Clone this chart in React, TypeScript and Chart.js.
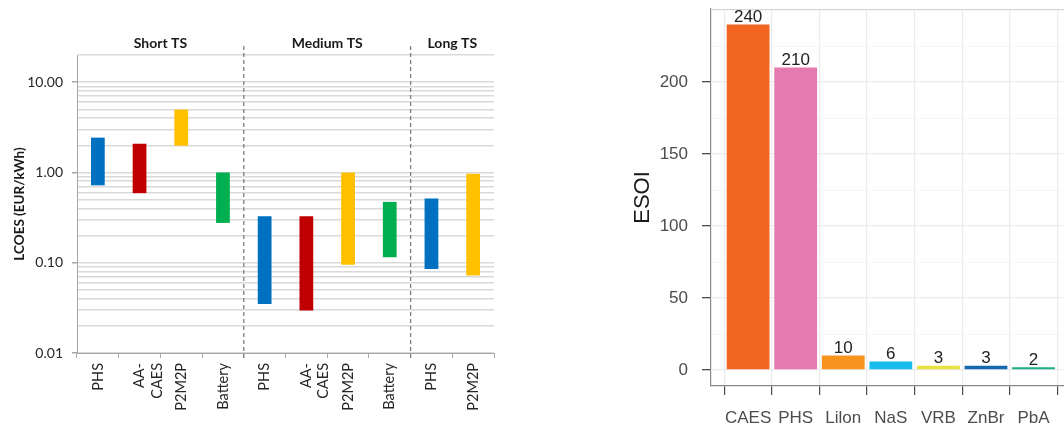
import React, { useEffect, useRef } from 'react';
import { Chart, registerables } from 'chart.js';
Chart.register(...registerables);

// ---------- Left chart data (LCOES, log scale) ----------
const lcoesCategories: string[][] = [
  ['PHS'], ['AA-', 'CAES'], ['P2M2P'], ['Battery'],
  ['PHS'], ['AA-', 'CAES'], ['P2M2P'], ['Battery'],
  ['PHS'], ['P2M2P'],
];
const lcoesLow = [0.72, 0.59, 1.98, 0.276, 0.035, 0.0295, 0.095, 0.115, 0.085, 0.072];
const lcoesHigh = [2.43, 2.08, 4.97, 1.0, 0.327, 0.327, 1.0, 0.472, 0.514, 0.967];
const lcoesColors = [
  '#0070C0', '#C00000', '#FFC000', '#00B050',
  '#0070C0', '#C00000', '#FFC000', '#00B050',
  '#0070C0', '#FFC000',
];
const groupNames = ['Short TS', 'Medium TS', 'Long TS'];
const groupSizes = [4, 4, 2];
const lcoesDecades = [0.01, 0.1, 1, 10];
const lcoesMin = 0.01;
const lcoesMax = 20;
const lcoesTitle = 'LCOES (EUR/kWh)';

// ---------- Right chart data (ESOI) ----------
const esoiCategories = ['CAES', 'PHS', 'Lilon', 'NaS', 'VRB', 'ZnBr', 'PbA'];
const esoiValues = [240, 210, 10, 6, 3, 3, 2];
const esoiColors = ['#F26522', '#E57AB0', '#F7941D', '#19BBEA', '#E9E23C', '#1468B0', '#1DAA86'];
const esoiMajorTicks = [0, 50, 100, 150, 200];
const esoiMinorTicks = [25, 75, 125, 175, 225, 250];
const esoiTitle = 'ESOI';

const FONT_L = 'Lato, "Open Sans", sans-serif';
const FONT_R = '"Liberation Sans", Arial, sans-serif';

function isDecade(v: number) {
  return lcoesDecades.some((d) => Math.abs(d - v) / d < 1e-6);
}

function LeftChart() {
  const ref = useRef<HTMLCanvasElement | null>(null);
  useEffect(() => {
    if (!ref.current) return;
    const gridValues: number[] = [];
    lcoesDecades.forEach((d) => {
      for (let k = 1; k <= 9; k++) {
        const v = d * k;
        if (v >= lcoesMin - 1e-9 && v <= lcoesMax + 1e-9) gridValues.push(Number(v.toPrecision(6)));
      }
    });
    if (!gridValues.some((v) => Math.abs(v - lcoesMax) < 1e-9)) gridValues.push(lcoesMax);

    const groupPlugin = {
      id: 'groups',
      afterDraw(chart: any) {
        const x = chart.scales.x;
        const ctx = chart.ctx;
        ctx.save();
        let start = 0;
        groupSizes.forEach((size, gi) => {
          const end = start + size - 1;
          const cx = (x.getPixelForValue(start) + x.getPixelForValue(end)) / 2;
          ctx.fillStyle = '#1a1a1a';
          ctx.font = 'bold 14px ' + FONT_L;
          ctx.textAlign = 'center';
          ctx.textBaseline = 'middle';
          ctx.fillText(groupNames[gi], cx, 43);
          if (gi < groupSizes.length - 1) {
            const bx = (x.getPixelForValue(end) + x.getPixelForValue(end + 1)) / 2;
            ctx.strokeStyle = '#7F7F7F';
            ctx.lineWidth = 1.3;
            ctx.setLineDash([4, 3]);
            ctx.beginPath();
            ctx.moveTo(bx, 46);
            ctx.lineTo(bx, 358);
            ctx.stroke();
            ctx.setLineDash([]);
          }
          start += size;
        });
        ctx.restore();
      },
    };

    const chart = new Chart(ref.current, {
      type: 'bar',
      data: {
        labels: lcoesCategories as any,
        datasets: [
          {
            data: lcoesLow.map((lo, i) => [lo, lcoesHigh[i]]) as any,
            backgroundColor: lcoesColors,
            borderWidth: 0,
            barPercentage: 0.33,
            categoryPercentage: 1,
          },
        ],
      },
      options: {
        animation: false,
        responsive: true,
        maintainAspectRatio: false,
        layout: { padding: { top: 55, right: 26, left: 0, bottom: 0 } },
        plugins: { legend: { display: false }, tooltip: { enabled: false } },
        scales: {
          x: {
            type: 'category',
            afterFit(scale: any) {
              scale.height = 75;
              scale.paddingLeft = 0;
              scale.paddingRight = 0;
            },
            grid: {
              display: true,
              drawOnChartArea: false,
              drawTicks: true,
              tickLength: 5,
              color: '#A6A6A6',
              offset: true,
            },
            border: { display: true, color: '#A6A6A6', width: 1 },
            ticks: {
              maxRotation: 90,
              minRotation: 90,
              autoSkip: false,
              padding: 5,
              color: '#262626',
              font: { family: FONT_L, size: 14.5 },
            },
          },
          y: {
            type: 'logarithmic',
            min: lcoesMin,
            max: lcoesMax,
            afterFit(scale: any) {
              scale.width = 77;
              scale.paddingTop = 0;
              scale.paddingBottom = 0;
            },
            afterBuildTicks(scale: any) {
              scale.ticks = gridValues.map((v) => ({ value: v, major: isDecade(v) }));
            },
            grid: {
              color: '#D9D9D9',
              lineWidth: 1.5,
              drawTicks: true,
              tickLength: 5,
              tickColor: (ctx: any) => (ctx.tick && isDecade(ctx.tick.value) ? '#A6A6A6' : 'rgba(0,0,0,0)'),
            },
            border: { display: true, color: '#A6A6A6', width: 1 },
            ticks: {
              autoSkip: false,
              padding: 9,
              color: '#262626',
              font: { family: FONT_L, size: 14 },
              callback: (value: any) => (isDecade(Number(value)) ? Number(value).toFixed(2) : ''),
            },
            title: {
              display: true,
              text: lcoesTitle,
              color: '#1a1a1a',
              font: { family: FONT_L, size: 13.5, weight: 'bold' },
              padding: { top: 12, bottom: 0 },
            },
          },
        },
      },
      plugins: [groupPlugin],
    } as any);
    return () => chart.destroy();
  }, []);
  return (
    <div style={{ position: 'absolute', left: 0, top: 0, width: 520, height: 428 }}>
      <canvas ref={ref} />
    </div>
  );
}

function RightChart() {
  const ref = useRef<HTMLCanvasElement | null>(null);
  useEffect(() => {
    if (!ref.current) return;
    const isMajor = (v: number) => esoiMajorTicks.includes(v);
    const labelPlugin = {
      id: 'esoiLabels',
      afterDraw(chart: any) {
        const ctx = chart.ctx;
        const area = chart.chartArea;
        ctx.save();
        ctx.strokeStyle = '#D4D4D4';
        ctx.lineWidth = 1;
        ctx.beginPath();
        ctx.moveTo(area.left, area.top + 0.5);
        ctx.lineTo(area.right, area.top + 0.5);
        ctx.stroke();
        const meta = chart.getDatasetMeta(0);
        ctx.fillStyle = '#222222';
        ctx.font = '17px ' + FONT_R;
        ctx.textAlign = 'center';
        ctx.textBaseline = 'alphabetic';
        meta.data.forEach((bar: any, i: number) => {
          ctx.fillText(String(esoiValues[i]), bar.x, bar.y - 2.5);
        });
        ctx.restore();
      },
    };
    const chart = new Chart(ref.current, {
      type: 'bar',
      data: {
        datasets: [
          {
            data: esoiValues.map((v, i) => ({ x: i, y: v })) as any,
            backgroundColor: esoiColors,
            borderWidth: 0,
            barPercentage: 0.9,
            categoryPercentage: 1,
          },
        ],
      },
      options: {
        animation: false,
        responsive: true,
        maintainAspectRatio: false,
        layout: { padding: { top: 9, right: 0, left: 0, bottom: 0 } },
        plugins: { legend: { display: false }, tooltip: { enabled: false } },
        scales: {
          x: {
            type: 'linear',
            min: -0.78,
            max: 6.64,
            offset: false,
            afterFit(scale: any) {
              scale.height = 42;
              scale.paddingLeft = 0;
              scale.paddingRight = 0;
            },
            afterBuildTicks(scale: any) {
              scale.ticks = esoiCategories.map((_, i) => ({ value: i }));
            },
            grid: {
              color: '#EBEBEB',
              lineWidth: 1.2,
              drawTicks: true,
              tickLength: 9,
              tickColor: '#4D4D4D',
            },
            border: { display: true, color: '#8A8A8A', width: 1.2 },
            ticks: {
              autoSkip: false,
              maxRotation: 0,
              padding: 13,
              color: '#4D4D4D',
              font: { family: FONT_R, size: 17 },
              callback: (value: any) => esoiCategories[Math.round(Number(value))] ?? '',
            },
          },
          y: {
            type: 'linear',
            min: -11.1,
            max: 250.7,
            afterFit(scale: any) {
              scale.width = 111;
              scale.paddingTop = 0;
              scale.paddingBottom = 0;
            },
            afterBuildTicks(scale: any) {
              scale.ticks = [...esoiMajorTicks, ...esoiMinorTicks]
                .sort((a, b) => a - b)
                .map((v) => ({ value: v }));
            },
            grid: {
              color: (ctx: any) => (ctx.tick && isMajor(ctx.tick.value) ? '#EBEBEB' : '#F5F5F5'),
              lineWidth: (ctx: any) => (ctx.tick && isMajor(ctx.tick.value) ? 1.3 : 0.9),
              drawTicks: true,
              tickLength: 9,
              tickColor: (ctx: any) => (ctx.tick && isMajor(ctx.tick.value) ? '#4D4D4D' : 'rgba(0,0,0,0)'),
            },
            border: { display: true, color: '#8A8A8A', width: 1.2 },
            ticks: {
              autoSkip: false,
              padding: 14,
              color: '#4D4D4D',
              font: { family: FONT_R, size: 17 },
              callback: (value: any) => (isMajor(Number(value)) ? String(value) : ''),
            },
            title: {
              display: true,
              text: esoiTitle,
              color: '#1a1a1a',
              font: { family: FONT_R, size: 22 },
              padding: { top: 30, bottom: 0 },
            },
          },
        },
      },
      plugins: [labelPlugin],
    } as any);
    return () => chart.destroy();
  }, []);
  return (
    <div style={{ position: 'absolute', left: 600, top: 0, width: 464, height: 428 }}>
      <canvas ref={ref} />
    </div>
  );
}

export default function App() {
  return (
    <div
      style={{
        position: 'fixed',
        left: 0,
        top: 0,
        width: 1064,
        height: 428,
        background: '#ffffff',
        overflow: 'hidden',
      }}
    >
      <LeftChart />
      <RightChart />
    </div>
  );
}
